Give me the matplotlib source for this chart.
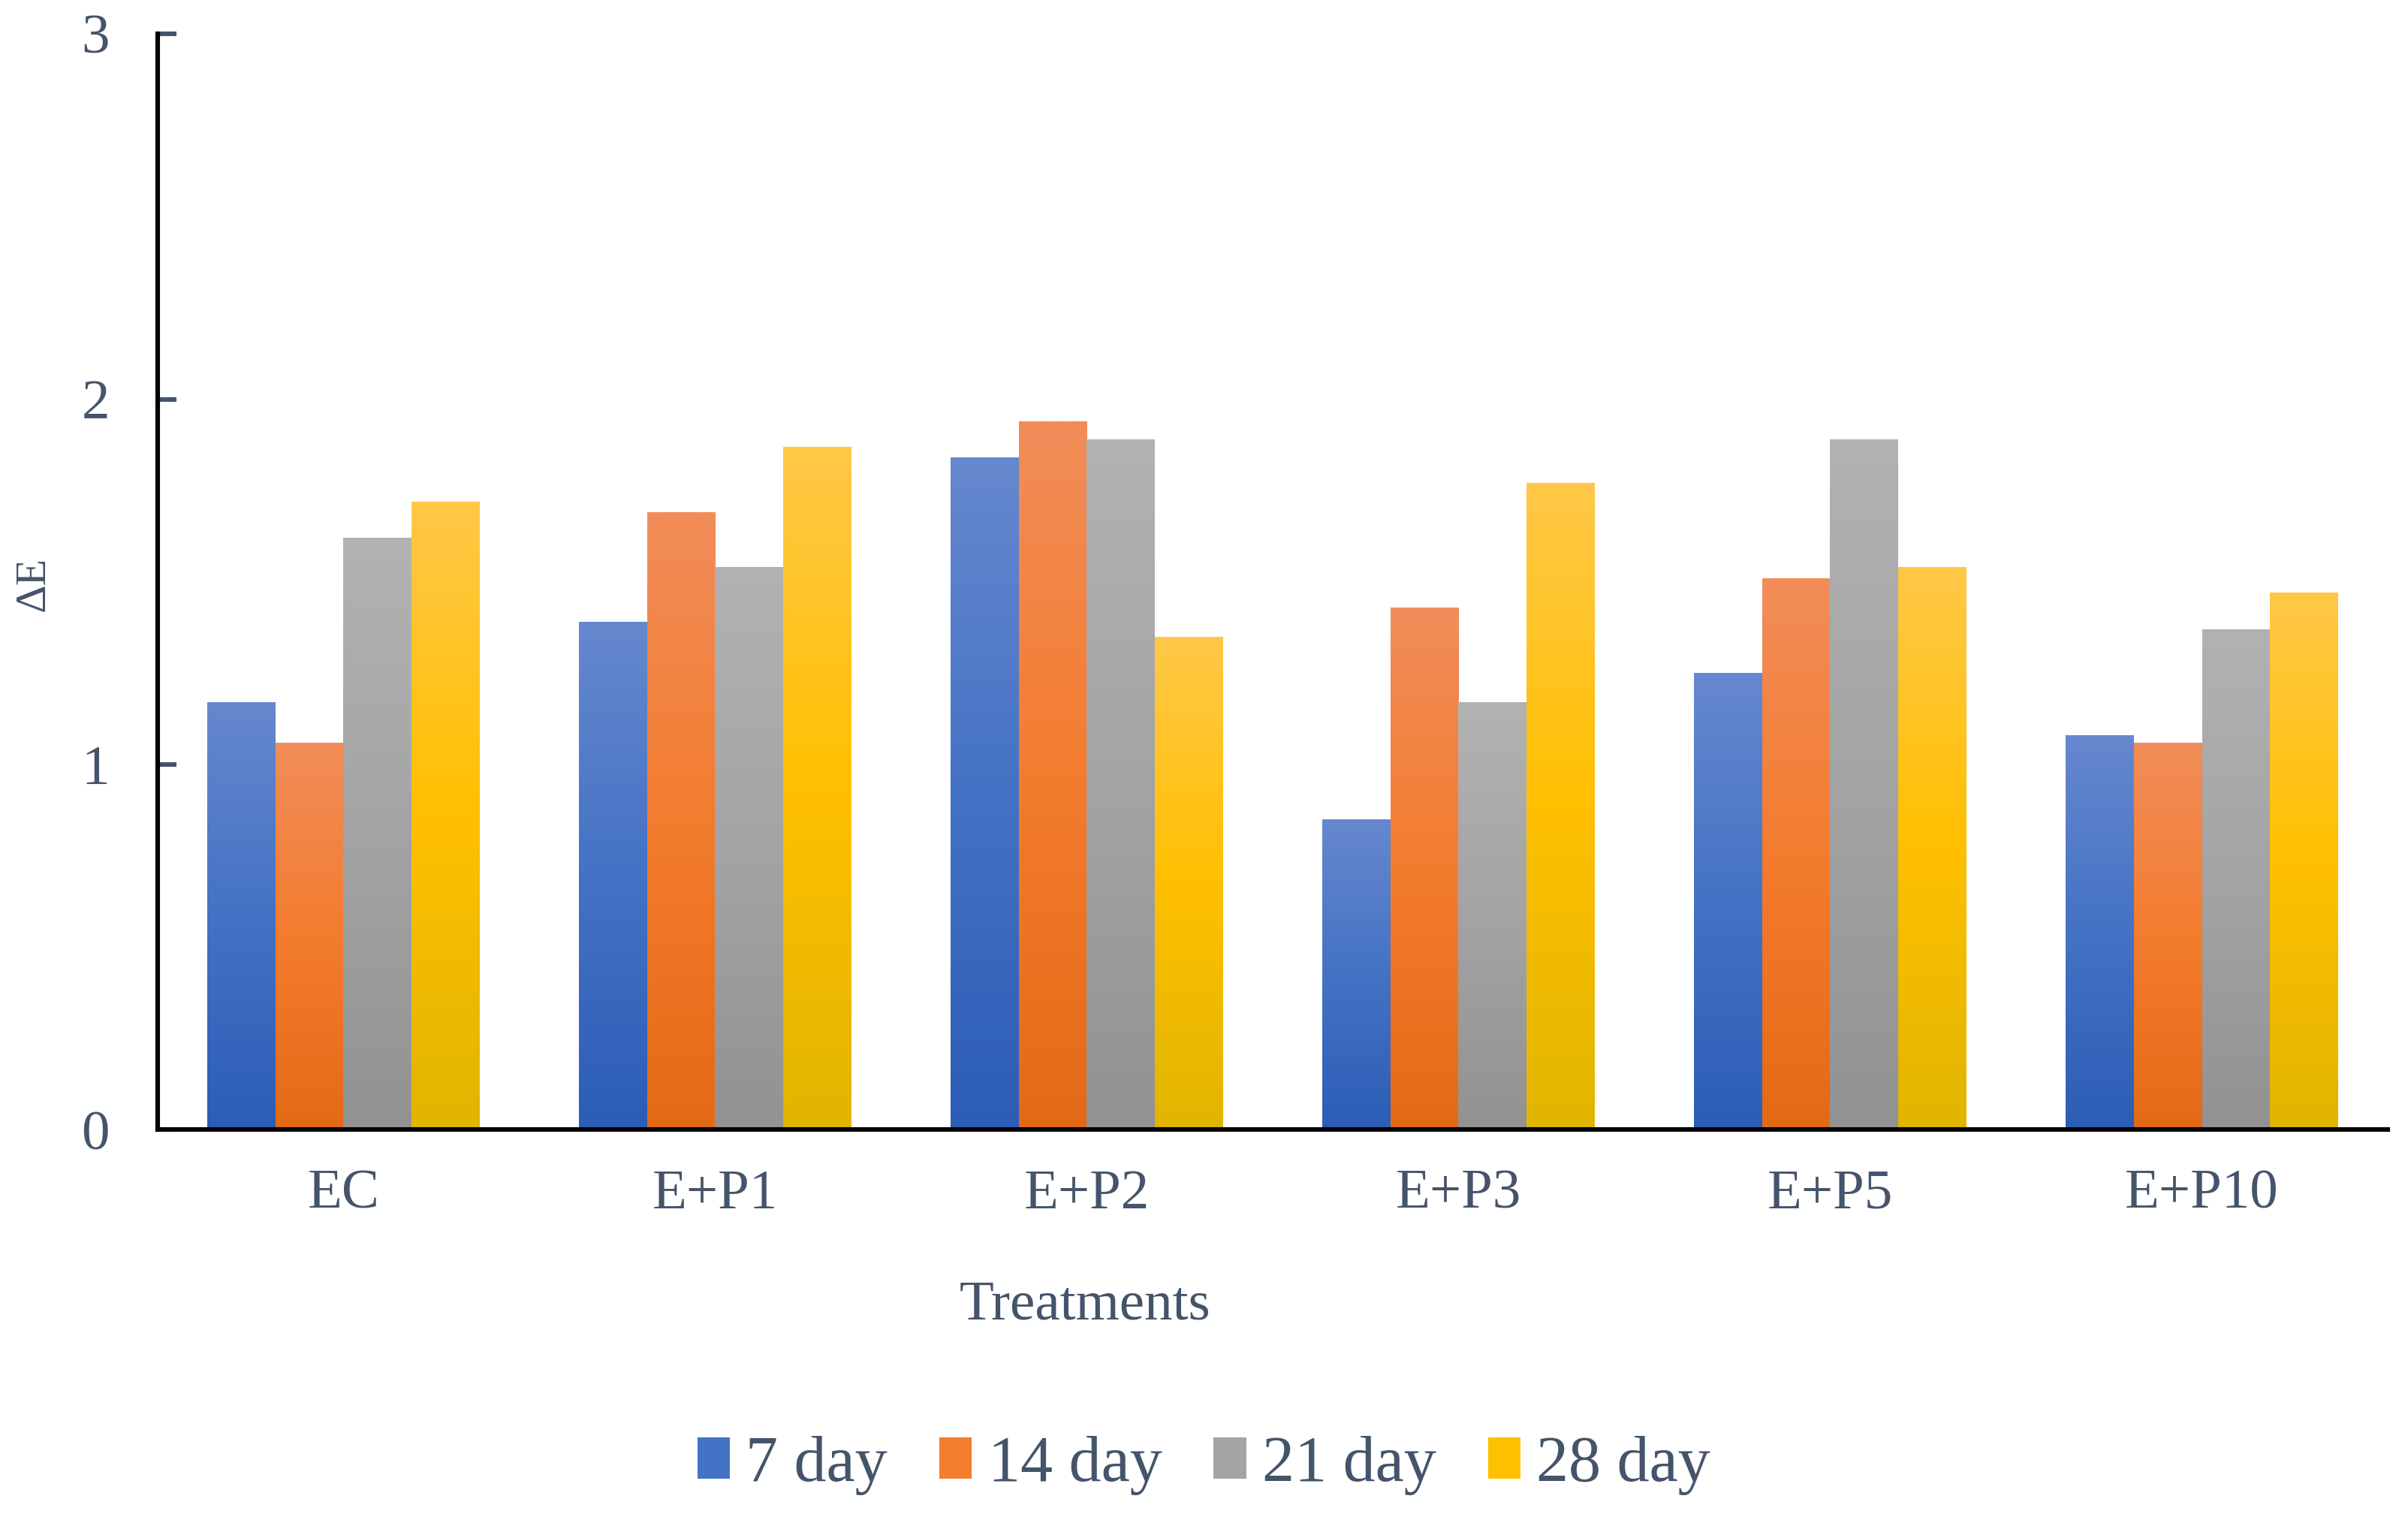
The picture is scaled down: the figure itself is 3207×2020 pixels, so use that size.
import numpy as np
import matplotlib
matplotlib.use("Agg")
import matplotlib.pyplot as plt
import matplotlib.patches as mpatches
from matplotlib.colors import to_rgb

plt.rcParams.update({
    "font.family": ["Liberation Serif", "DejaVu Serif"],
    "text.color": "#44546A",
    "axes.labelcolor": "#44546A",
    "xtick.color": "#44546A",
    "ytick.color": "#44546A",
})

# ── Data ──────────────────────────────────────────────────────────────────────
treatments = ["EC", "E+P1", "E+P2", "E+P3", "E+P5", "E+P10"]
series = ["7 day", "14 day", "21 day", "28 day"]
day7 = [1.17, 1.39, 1.84, 0.85, 1.25, 1.08]
day14 = [1.06, 1.69, 1.94, 1.43, 1.51, 1.06]
day21 = [1.62, 1.54, 1.89, 1.17, 1.89, 1.37]
day28 = [1.72, 1.87, 1.35, 1.77, 1.54, 1.47]
values = [day7, day14, day21, day28]

# gradient stops per series: top, middle, bottom
grads = [
    ("#6688CE", "#4472C4", "#2C5DB6"),
    ("#F18D5A", "#F47C2E", "#E36A15"),
    ("#B2B2B2", "#A4A4A4", "#929292"),
    ("#FFC848", "#FFC000", "#E1B500"),
]

fig = plt.figure(figsize=(16.035, 10.1), dpi=200)
ax = fig.add_axes([0.0654, 0.2553, 0.9262, 0.7223])

x = np.arange(len(treatments))
w = 0.183
offsets = (np.arange(4) - 1.5) * w


def grad_img(stops, n=256):
    top, mid, bot = [np.array(to_rgb(c)) for c in stops]
    t = np.linspace(0, 1, n)[:, None]
    up = top + (mid - top) * np.clip(t * 2, 0, 1)
    img = np.where(t < 0.5, up, mid + (bot - mid) * np.clip(t * 2 - 1, 0, 1))
    return img[:, None, :]


for vals, off, stops, name in zip(values, offsets, grads, series):
    bars = ax.bar(x + off, vals, width=w, color=stops[1], linewidth=0, label=name)
    img = grad_img(stops)
    for b in bars:
        b.set_alpha(0)
        x0, y0 = b.get_x(), b.get_y()
        im = ax.imshow(img, extent=[x0, x0 + b.get_width(), y0, y0 + b.get_height()],
                       aspect="auto", origin="upper", zorder=2, interpolation="bilinear")
        im.set_clip_path(b)

ax.set_xlim(-0.5, len(treatments) - 0.5)
ax.set_ylim(0, 3)
ax.set_yticks([0, 1, 2, 3])
ax.set_xticks(x)
ax.set_xticklabels(treatments, fontsize=27)
ax.tick_params(axis="x", length=0, pad=19)
ax.tick_params(axis="y", direction="in", length=9, width=2.2, pad=23, labelsize=27)
for s in ["top", "right"]:
    ax.spines[s].set_visible(False)
for s in ["left", "bottom"]:
    ax.spines[s].set_linewidth(2.2)
    ax.spines[s].set_color("black")

fig.text(0.014, 0.615, "ΔE", rotation=90, ha="center", va="center", fontsize=21)
fig.text(0.4506, 0.139, "Treatments", ha="center", va="center", fontsize=27)

handles = [mpatches.Patch(facecolor=g[1], edgecolor="none") for g in grads]
fig.legend(handles, series, loc="center", bbox_to_anchor=(0.5, 0.034), ncol=4,
           frameon=False, fontsize=31, handlelength=0.5, handleheight=0.6,
           handletextpad=0.25, columnspacing=0.8)

fig.savefig("out.png", dpi=200)
